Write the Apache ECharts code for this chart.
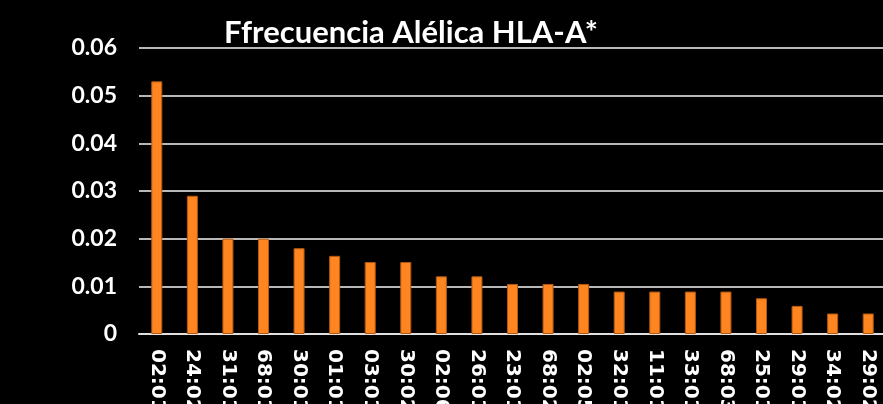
<!DOCTYPE html>
<html>
<head>
<meta charset="utf-8">
<script src="https://cdn.jsdelivr.net/npm/echarts@6/dist/echarts.min.js"></script>
<style>
  html, body { margin: 0; padding: 0; background: #000; }
  #chart { width: 883px; height: 404px; }
</style>
</head>
<body>
<div id="chart"></div>
<script>
// HLA-A allele frequencies
const alleles = ['02:01', '24:02', '31:01', '68:01', '30:01', '01:01', '03:01', '30:02', '02:06', '26:01',
                 '23:01', '68:02', '02:05', '32:01', '11:01', '33:01', '68:03', '25:01', '29:01', '34:02', '29:02'];
const frequencies = [0.053, 0.029, 0.020, 0.020, 0.018, 0.0164, 0.0151, 0.0151, 0.0121, 0.0121,
                     0.0105, 0.0105, 0.0105, 0.0089, 0.0089, 0.0089, 0.0089, 0.0075, 0.0059, 0.0043, 0.0043];
const yTicks = [0, 0.01, 0.02, 0.03, 0.04, 0.05, 0.06];

const chart = echarts.init(document.getElementById('chart'), null, { renderer: 'canvas' });
chart.setOption({
  backgroundColor: '#000000',
  animation: false,
  title: {
    text: 'Ffrecuencia Alélica HLA-A*',
    left: 406,
    textAlign: 'center',
    top: 12,
    textStyle: { color: '#ffffff', fontFamily: 'Lato', fontWeight: 'bold', fontSize: 31 }
  },
  grid: { left: 139, right: -3, top: 48, bottom: 70, containLabel: false, outerBoundsMode: 'none' },
  xAxis: {
    type: 'category',
    data: alleles,
    axisLine: { show: true, lineStyle: { color: '#e0e0e0', width: 2 } },
    axisTick: { show: false },
    axisLabel: {
      interval: 0,
      rotate: -90,
      margin: 15,
      color: '#ffffff',
      fontFamily: 'DejaVu Sans',
      fontWeight: 'bold',
      fontSize: 20
    }
  },
  yAxis: {
    type: 'value',
    min: yTicks[0],
    max: yTicks[yTicks.length - 1],
    interval: 0.01,
    axisLine: { show: false },
    axisTick: { show: false },
    splitLine: { lineStyle: { color: '#b8b8b8', width: 2 } },
    axisLabel: {
      margin: 22,
      color: '#ffffff',
      fontFamily: 'Lato',
      fontWeight: 'bold',
      fontSize: 23,
      formatter: v => (v === 0 ? '0' : v.toFixed(2))
    }
  },
  series: [{
    type: 'bar',
    data: frequencies,
    barWidth: 11,
    itemStyle: { color: '#ff8520', borderColor: '#b35a12', borderWidth: 1 }
  }]
});
</script>
</body>
</html>
